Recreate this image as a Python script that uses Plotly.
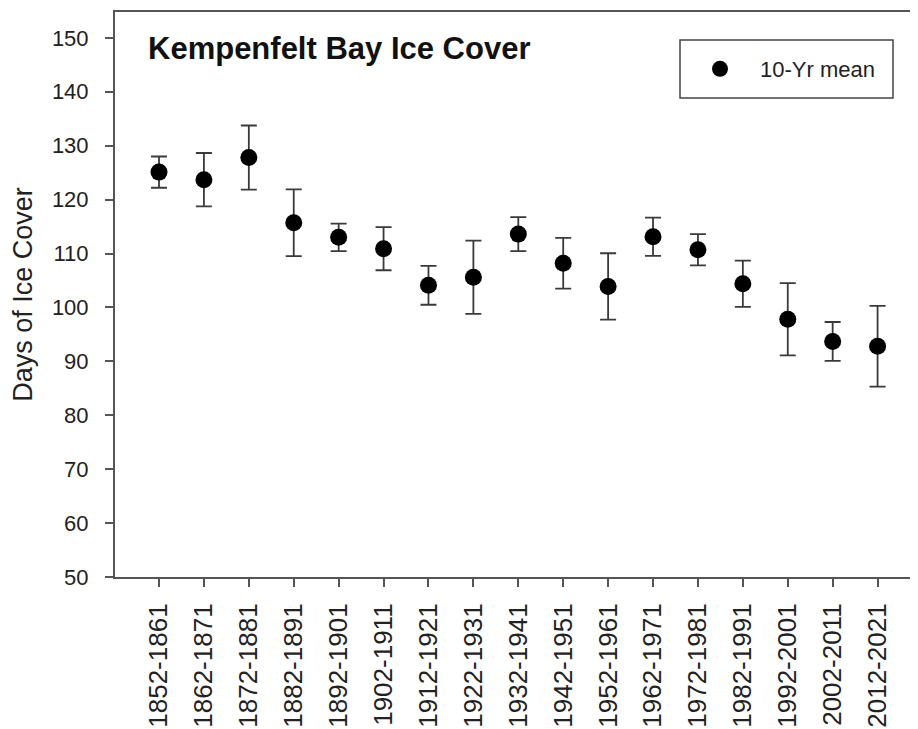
import plotly.graph_objects as go

periods = ["1852-1861", "1862-1871", "1872-1881", "1882-1891", "1892-1901",
           "1902-1911", "1912-1921", "1922-1931", "1932-1941", "1942-1951",
           "1952-1961", "1962-1971", "1972-1981", "1982-1991", "1992-2001",
           "2002-2011", "2012-2021"]
mean_days = [125.1, 123.7, 127.8, 115.7, 113.0, 110.9, 104.1, 105.6, 113.6,
             108.2, 103.9, 113.1, 110.7, 104.4, 97.8, 93.7, 92.8]
err_days = [2.9, 4.95, 5.95, 6.2, 2.55, 4.0, 3.6, 6.8, 3.15, 4.7, 6.15,
            3.55, 2.9, 4.3, 6.7, 3.6, 7.5]
y_ticks = [50, 60, 70, 80, 90, 100, 110, 120, 130, 140, 150]

FONT = "Arial, Liberation Sans, Helvetica, sans-serif"
AXIS = "#555555"

# page is drawn with an 8px body offset; size the figure to fill the window
OFF = 8
W, H = 918 - OFF, 729 - OFF
ml, mr, mt, mb = 115 - OFF, 0, 12 - OFF, 152
pw = W - ml - mr
ph = H - mt - mb

def px_x(p):
    return (p - OFF - ml) / pw

def px_y(p):
    return 1 - (p - OFF - mt) / ph

fig = go.Figure()
fig.add_trace(go.Scatter(
    x=periods, y=mean_days, mode="markers", name="10-Yr mean",
    marker=dict(color="black", size=17, line=dict(width=0)),
    error_y=dict(type="data", array=err_days, visible=True,
                 color="#3a3a3a", thickness=1.8, width=8),
))

# legend frame
fig.add_shape(type="rect", xref="paper", yref="paper",
              x0=px_x(680), x1=px_x(893), y0=px_y(98), y1=px_y(40),
              line=dict(color="#444444", width=1.5), fillcolor="white", layer="below")

fig.update_layout(
    width=W, height=H,
    margin=dict(l=ml, r=mr, t=mt, b=mb, autoexpand=False),
    paper_bgcolor="white", plot_bgcolor="white",
    font=dict(family=FONT, color="#222222"),
    title=dict(text="<b>Kempenfelt Bay Ice Cover</b>", xref="paper", yref="paper",
               x=px_x(148), xanchor="left", y=px_y(48), yanchor="middle",
               font=dict(size=31, color="#111111", family=FONT)),
    showlegend=True,
    legend=dict(x=px_x(680), y=px_y(69), xanchor="left", yanchor="middle",
                bgcolor="rgba(0,0,0,0)", borderwidth=0, itemwidth=70,
                font=dict(size=22, color="#222222", family=FONT)),
    xaxis=dict(
        range=[-0.98, 16.9], showgrid=False, zeroline=False, automargin=False,
        showline=True, linecolor=AXIS, linewidth=2, mirror=True,
        ticks="outside", ticklen=8, tickcolor=AXIS, tickwidth=1.5,
        ticklabelstandoff=6,
        tickangle=-90, tickfont=dict(size=26, family=FONT, color="#222222"),
        type="category",
    ),
    yaxis=dict(
        range=[50, 154.8], showgrid=False, zeroline=False, automargin=False,
        showline=True, linecolor=AXIS, linewidth=2,
        ticks="outside", ticklen=8, tickcolor=AXIS, tickwidth=1.5,
        ticklabelstandoff=12,
        tickvals=y_ticks, tickfont=dict(size=22, family=FONT, color="#222222"),
        title=dict(text="Days of Ice Cover", standoff=14,
                   font=dict(size=27, family=FONT, color="#222222")),
    ),
)

fig.write_html("out.html")
